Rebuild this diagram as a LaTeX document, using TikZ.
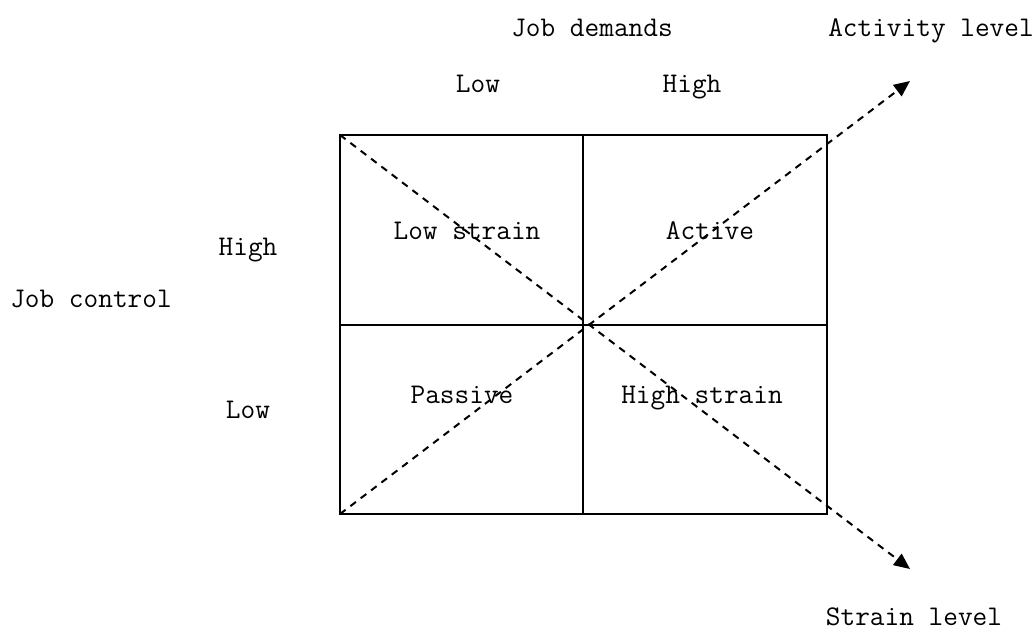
\documentclass[tikz,border=0pt]{standalone}
\usetikzlibrary{arrows.meta}
\begin{document}
\begin{tikzpicture}[x=1pt,y=-1pt,
  lbl/.style={font=\fontsize{28.5}{31}\selectfont\ttfamily,anchor=base,inner sep=0pt},
  boxline/.style={line width=1.8pt},
  diag/.style={line width=2pt,dash pattern=on 7pt off 6pt,-{Triangle[length=16pt,width=14pt]}}]
\useasboundingbox (0,0) rectangle (1035,642);
\coordinate (tl) at (340,135);
\coordinate (tr) at (827,135);
\coordinate (bl) at (340,514);
\coordinate (br) at (827,514);
\coordinate (tm) at (583,135);
\coordinate (bm) at (583,514);
\coordinate (lm) at (340,325);
\coordinate (rm) at (827,325);
\coordinate (up) at (910,81);
\coordinate (dn) at (910,569);
\draw[boxline] (tl) rectangle (br);
\draw[boxline] (tm) -- (bm);
\draw[boxline] (lm) -- (rm);
\draw[diag] (tl) -- (dn);
\draw[diag] (bl) -- (up);
\node[lbl] (jd) at (592,37) {Job demands};
\node[lbl] (al) at (931,37) {Activity level};
\node[lbl] (lowt) at (478,92) {Low};
\node[lbl] (hight) at (692,92) {High};
\node[lbl] (highl) at (248,255) {High};
\node[lbl] (lowl) at (248,418) {Low};
\node[lbl] (jc) at (91,307) {Job control};
\node[lbl] (ls) at (467,239) {Low strain};
\node[lbl] (ac) at (710,239) {Active};
\node[lbl] (pa) at (462,403) {Passive};
\node[lbl] (hs) at (702,403) {High strain};
\node[lbl] (sl) at (914,625) {Strain level};
\end{tikzpicture}
\end{document}
